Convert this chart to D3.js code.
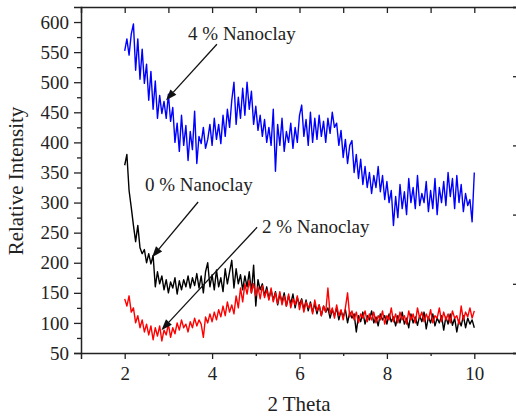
<!DOCTYPE html>
<html>
<head>
<meta charset="utf-8">
<script src="https://cdn.jsdelivr.net/npm/d3@7"></script>
<style>
html,body{margin:0;padding:0;background:#fff;}
svg{display:block;}
text{font-family:"Liberation Serif","Times New Roman",serif;fill:#222;}
</style>
</head>
<body>
<svg id="chart" width="516" height="417"></svg>
<script>
// ---- data (2 Theta from 2 to 10, step 0.05) ----
const twoTheta = d3.range(0, 161).map(i => +(2 + i * 0.05).toFixed(2));

const nanoclay4 = [
552,572,545,580,597,520,572,505,555,498,
530,470,518,455,502,440,478,448,468,440,
480,435,458,400,432,385,445,395,428,370,
418,388,452,365,410,398,425,390,405,430,
395,440,405,430,398,445,410,455,425,470,
500,430,475,440,490,445,500,455,485,430,
460,420,445,410,438,400,425,395,455,352,
430,395,440,385,418,400,432,390,425,400,
445,462,410,438,395,450,400,440,405,445,
410,435,400,440,415,450,425,432,395,420,
375,405,365,395,403,350,380,340,372,330,
360,325,350,315,345,325,360,318,345,305,
335,300,320,262,310,275,330,290,318,280,
340,300,325,290,345,295,315,300,335,285,
320,290,340,280,325,300,335,295,350,310,
340,290,345,300,330,285,315,295,305,268,
350];

const nanoclay0 = [
362,380,320,292,262,235,262,225,215,222,
200,215,198,212,160,185,165,178,155,172,
150,168,158,175,148,170,155,172,160,178,
158,175,162,182,158,178,150,185,200,160,
180,155,188,160,175,152,190,165,185,204,
158,190,165,180,155,178,160,185,150,196,
128,172,155,165,145,160,140,155,138,152,
130,148,135,150,128,145,132,148,125,142,
130,140,122,138,120,135,118,132,115,130,
112,128,118,125,108,122,112,125,105,120,
110,122,100,118,108,115,85,112,102,118,
98,112,105,120,100,110,95,115,105,112,
98,115,102,110,95,112,100,118,98,108,
92,115,100,110,96,112,102,118,90,110,
100,115,95,108,100,112,88,110,98,115,
96,108,85,105,95,112,92,108,98,105,
92];

const nanoclay2 = [
140,128,145,118,125,100,112,92,105,85,
98,80,95,72,92,78,95,70,88,80,
98,76,92,82,100,88,105,92,98,85,
102,92,108,95,105,98,76,110,100,115,
102,118,105,122,110,128,112,135,118,130,
115,145,125,158,135,165,148,170,150,165,
145,160,140,162,142,155,138,158,135,150,
132,152,130,145,128,148,125,140,130,145,
122,138,118,135,125,132,115,138,120,130,
112,128,118,158,115,125,108,130,112,122,
105,125,150,110,120,105,118,100,115,108,
120,102,115,105,118,100,112,105,120,98,
112,105,125,102,115,100,118,105,112,98,
120,105,115,100,125,108,118,102,115,105,
122,100,112,108,125,102,118,105,115,100,
120,108,112,98,128,105,118,110,125,108,
120];

const xMajorTicks = [2, 4, 6, 8, 10];
const xMinorTicks = [3, 5, 7, 9];
const xTopTicks = [2, 3, 4, 5, 6, 7, 8, 9, 10];
const yMajorTicks = [50,100,150,200,250,300,350,400,450,500,550,600];
const yMinorTicks = [75,125,175,225,275,325,375,425,475,525,575];

const seriesList = [
  {name: "4 % Nanoclay", values: nanoclay4, color: "#0000ff"},
  {name: "0 % Nanoclay", values: nanoclay0, color: "#000000"},
  {name: "2 % Nanoclay", values: nanoclay2, color: "#ff0000"}
];

// annotation label anchors and arrows (data coordinates)
const annotations = [
  {text: "4 % Nanoclay", tx: 3.45, ty: 570, ax0: 4.11, ay0: 563, ax1: 2.945, ay1: 470},
  {text: "0 % Nanoclay", tx: 2.465, ty: 319, ax0: 3.68, ay0: 301, ax1: 2.625, ay1: 209},
  {text: "2 % Nanoclay", tx: 5.14, ty: 249, ax0: 5.03, ay0: 259, ax1: 2.84, ay1: 88}
];

// ---- chart ----
const svg = d3.select("#chart");
const x = d3.scaleLinear().domain([1, 11]).range([81, 518]);
const y = d3.scaleLinear().domain([50, 625]).range([353, 7]);
const yRight = d3.scaleLinear().domain([0, 10]).range([353, 7]);

const axisColor = "#222";
function styleAxis(g) {
  g.selectAll(".domain").attr("stroke", axisColor).attr("stroke-width", 1.5);
  g.selectAll(".tick line").attr("stroke", axisColor).attr("stroke-width", 1.3);
  g.selectAll("text").style("font-size", "19px").attr("fill", "#222")
    .style("font-family", '"Liberation Serif","Times New Roman",serif');
}

// bottom
const gB = svg.append("g").attr("transform", "translate(0,353)")
  .call(d3.axisBottom(x).tickValues(xMajorTicks).tickSize(6).tickPadding(8).tickFormat(d3.format("d")));
styleAxis(gB);
svg.append("g").attr("transform", "translate(0,353)")
  .call(d3.axisBottom(x).tickValues(xMinorTicks).tickSize(3).tickFormat(""))
  .call(g => { g.select(".domain").remove(); g.selectAll(".tick line").attr("stroke", axisColor).attr("stroke-width", 1.3); });

// top
const gT = svg.append("g").attr("transform", "translate(0,7)")
  .call(d3.axisBottom(x).tickValues(xTopTicks).tickSize(6).tickFormat(""));
styleAxis(gT);

// left
const gL = svg.append("g").attr("transform", "translate(81,0)")
  .call(d3.axisLeft(y).tickValues(yMajorTicks).tickSize(7).tickPadding(5).tickFormat(d3.format("d")));
styleAxis(gL);
svg.append("g").attr("transform", "translate(81,0)")
  .call(d3.axisLeft(y).tickValues(yMinorTicks).tickSize(4).tickFormat(""))
  .call(g => { g.select(".domain").remove(); g.selectAll(".tick line").attr("stroke", axisColor).attr("stroke-width", 1.3); });

// right (mostly outside the visible window)
const gR = svg.append("g").attr("transform", "translate(518,0)")
  .call(d3.axisLeft(yRight).tickValues([0,2,4,6,8,10]).tickSize(5).tickFormat(""));
styleAxis(gR);
svg.append("g").attr("transform", "translate(518,0)")
  .call(d3.axisLeft(yRight).tickValues([1,3,5,7,9]).tickSize(2).tickFormat(""))
  .call(g => { g.select(".domain").remove(); g.selectAll(".tick line").attr("stroke", axisColor).attr("stroke-width", 1.3); });

// series
const line = d3.line().x((d, i) => x(twoTheta[i])).y(d => y(d));
svg.append("g").selectAll("path").data(seriesList).join("path")
  .attr("fill", "none")
  .attr("stroke", d => d.color)
  .attr("stroke-width", 1.4)
  .attr("stroke-linejoin", "round")
  .attr("d", d => line(d.values));

// annotations
const ann = svg.append("g");
annotations.forEach(a => {
  ann.append("text").attr("x", x(a.tx)).attr("y", y(a.ty))
    .style("font-size", "19px").text(a.text);
  const x0 = x(a.ax0), y0 = y(a.ay0), x1 = x(a.ax1), y1 = y(a.ay1);
  const ang = Math.atan2(y1 - y0, x1 - x0);
  const L = 11, W = 4;
  const bx = x1 - L * Math.cos(ang), by = y1 - L * Math.sin(ang);
  ann.append("line").attr("x1", x0).attr("y1", y0).attr("x2", bx).attr("y2", by)
    .attr("stroke", "#111").attr("stroke-width", 1.3);
  const px = -Math.sin(ang) * W, py = Math.cos(ang) * W;
  ann.append("path")
    .attr("d", `M${x1},${y1}L${bx + px},${by + py}L${bx - px},${by - py}Z`)
    .attr("fill", "#111");
});

// axis titles
svg.append("text").attr("x", 299).attr("y", 411).attr("text-anchor", "middle")
  .style("font-size", "21px").text("2 Theta");
svg.append("text").attr("transform", "translate(23,181) rotate(-90)")
  .attr("text-anchor", "middle").style("font-size", "21px").text("Relative Intensity");
</script>
</body>
</html>
